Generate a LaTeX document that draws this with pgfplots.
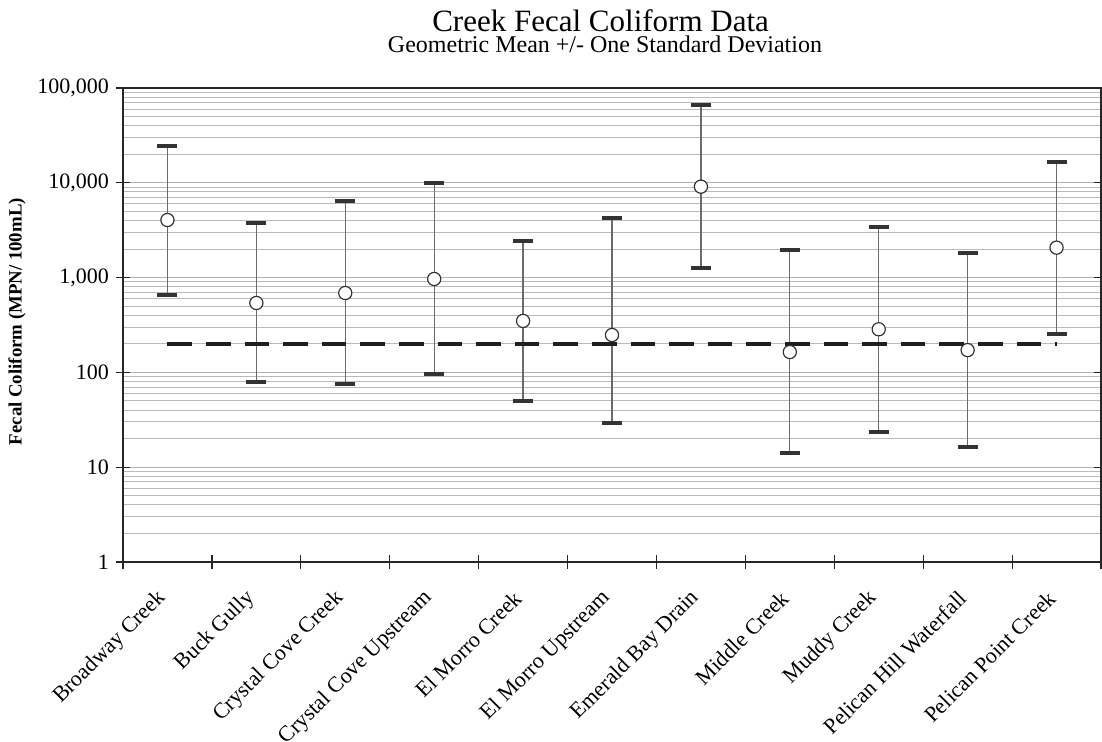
\documentclass[border=0pt]{standalone}
\usepackage{pgfplots}
\pgfplotsset{compat=1.18}
\usepackage{pgfplotstable}
\usepackage{fontspec}
\setmainfont{Liberation Serif}

% Geometric mean and the mean -/+ one standard deviation (MPN/100mL)
\pgfplotstableread{
x mean lo hi
0 4050 655 24600
1 540 80 3740
2 688 75 6430
3 967 96 9990
4 349 50 2430
5 248 29 4285
6 9100 1254 66100
7 164 14.1 1941
8 285 23.4 3443
9 172 16.2 1832
10 2070 256 16700
}\creekdata

\begin{document}
\begin{tikzpicture}
\begin{axis}[
  scale only axis,
  width=489pt, height=237pt,
  ymode=log, ymin=1, ymax=100000,
  xmin=-0.5, xmax=10.5,
  xtick={-0.5,0.5,...,10.5}, xticklabels={},
  xtick pos=left,
  extra x ticks={0,1,2,3,4,5,6,7,8,9,10},
  extra x tick labels={Broadway Creek, Buck Gully, Crystal Cove Creek,
    Crystal Cove Upstream, El Morro Creek, El Morro Upstream,
    Emerald Bay Drain, Middle Creek, Muddy Creek,
    Pelican Hill Waterfall, Pelican Point Creek},
  extra x tick style={major tick length=0pt,
    xticklabel style={rotate=45, anchor=east, font=\fontsize{11}{13}\selectfont}},
  xticklabel shift=14pt,
  ytick={1,10,100,1000,10000,100000},
  yticklabels={1,10,100,{1,000},{10,000},{100,000}},
  tick align=center,
  major tick length=7pt, minor tick length=0pt,
  ymajorgrids, yminorgrids,
  major grid style={black!30, line width=0.5pt},
  minor grid style={black!27, line width=0.5pt},
  axis line style={black!85, line width=0.8pt},
  tick style={black!85, line width=0.6pt},
  ticklabel style={font=\fontsize{11}{13}\selectfont},
  ylabel={Fecal Coliform (MPN/ 100mL)},
  every axis y label/.style={at={(axis description cs:-0.1084,0.507)},
    rotate=90, anchor=center, font=\fontsize{9.4}{11}\selectfont\bfseries},
]
% whiskers from the lower to the upper bound
\addplot[draw=none, mark=none,
  error bars/.cd, y dir=both, y explicit, error mark=none,
  error bar style={draw=black!58, line width=0.6pt, solid}]
  table[x=x, y=mean,
    y error plus expr=\thisrow{hi}-\thisrow{mean},
    y error minus expr=\thisrow{mean}-\thisrow{lo}] {\creekdata};
% caps
\addplot[only marks, mark=-, mark size=5pt, black!80,
  mark options={line width=2pt, solid}] table[x=x, y=hi] {\creekdata};
\addplot[only marks, mark=-, mark size=5pt, black!80,
  mark options={line width=2pt, solid}] table[x=x, y=lo] {\creekdata};
% 200 MPN/100mL reference level
\addplot[black!88, line width=1.9pt, dash pattern=on 12.3pt off 7pt]
  coordinates {(0,200) (10,200)};
% geometric means
\addplot[only marks, mark=*, mark size=3.3pt,
  mark options={fill=white, draw=black!80, line width=0.6pt}]
  table[x=x, y=mean] {\creekdata};
\end{axis}
\node[anchor=base, font=\fontsize{15.5}{18}\selectfont] at (238.8pt,265.2pt)
  {Creek Fecal Coliform Data};
\node[anchor=base, font=\fontsize{12}{14}\selectfont] at (241pt,254.5pt)
  {Geometric Mean +/- One Standard Deviation};
\pgfresetboundingbox
\path[use as bounding box] (-61.5pt,-90pt) rectangle (489.5pt,281pt);
\end{tikzpicture}
\end{document}
